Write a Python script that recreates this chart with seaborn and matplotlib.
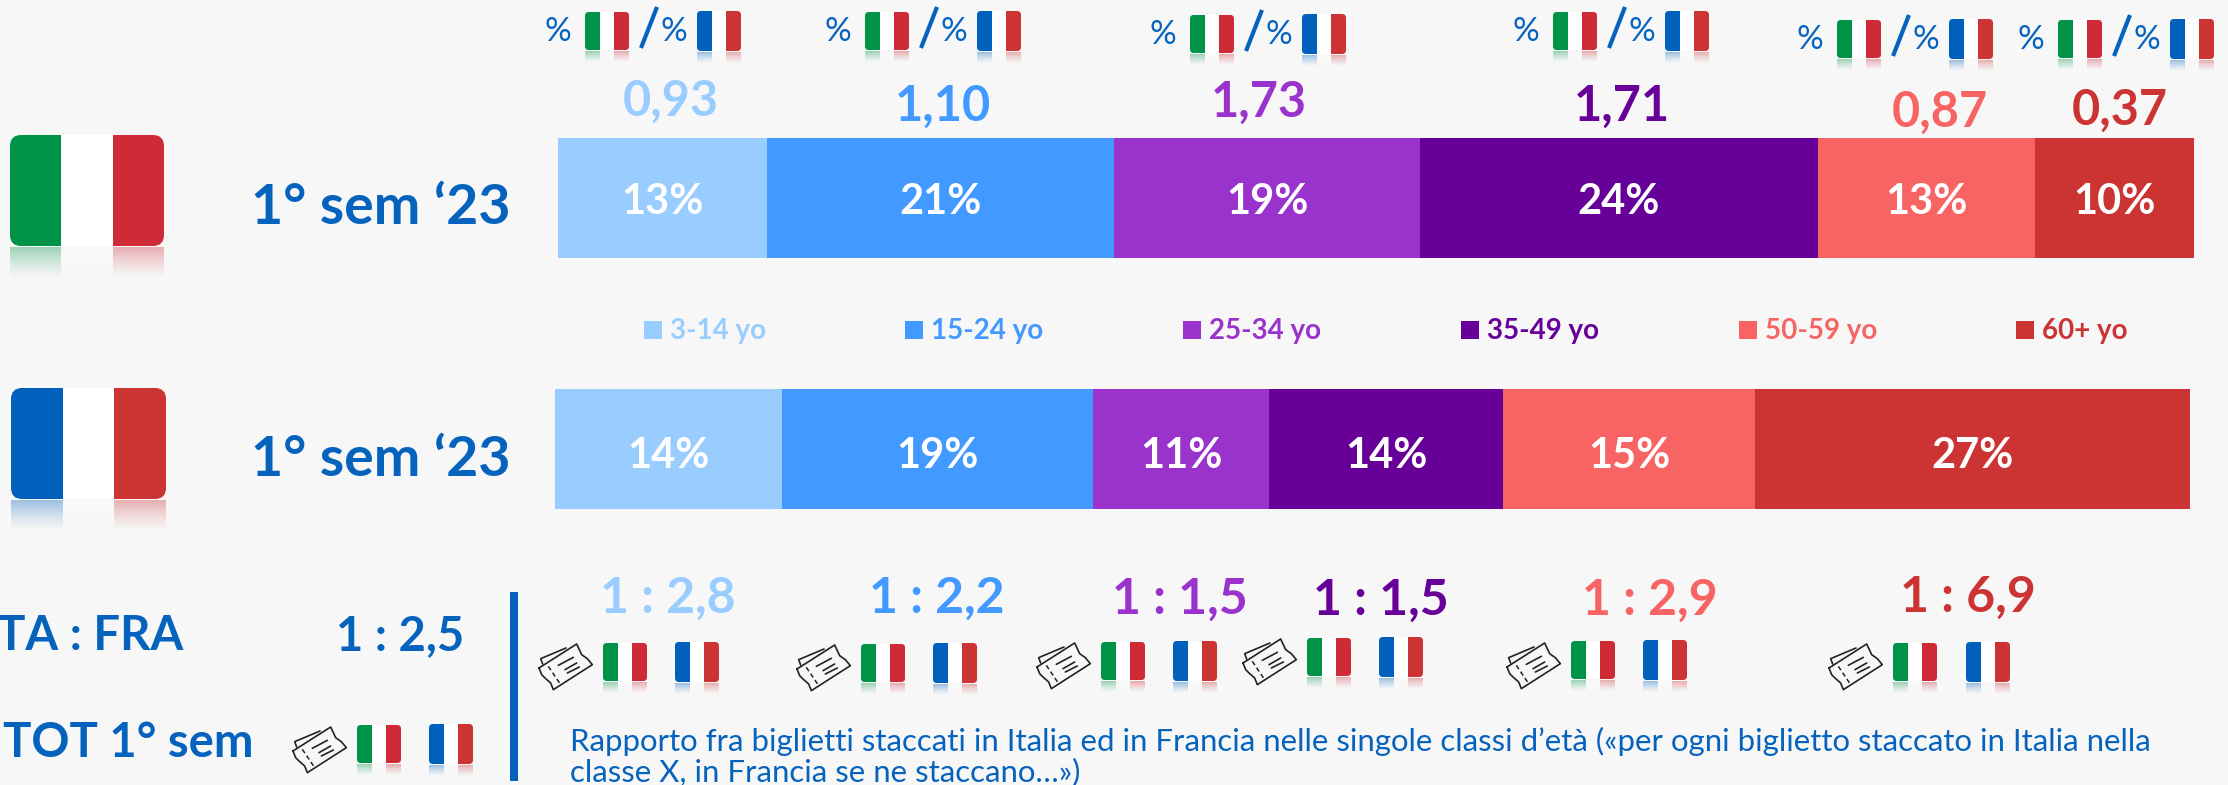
import numpy as np
import matplotlib
matplotlib.use("Agg")
import matplotlib.pyplot as plt
from matplotlib.patches import FancyBboxPatch, Rectangle
import seaborn as sns

age_classes = ['3-14 yo', '15-24 yo', '25-34 yo', '35-49 yo', '50-59 yo', '60+ yo']
share_ita = [12.8, 21.2, 18.7, 24.3, 13.3, 9.7]
share_fra = [13.9, 19.0, 10.8, 14.3, 15.4, 26.6]
pct_ratio = [0.93, 1.10, 1.73, 1.71, 0.87, 0.37]
ticket_ratio = [2.8, 2.2, 1.5, 1.5, 2.9, 6.9]
ticket_total = 2.5
palette = ['#99CCFF', '#4299FF', '#9933CC', '#660099', '#F86464', '#CC3333']

BLUE = '#0563BE'
BG = '#F7F7F7'
W, H = 2228, 785

sns.set_theme(style='white')
plt.rcParams['font.family'] = ['Lato', 'DejaVu Sans']

fig = plt.figure(figsize=(W / 100, H / 100), dpi=100, facecolor=BG)


def num(x, digits):
    return f'{x:.{digits}f}'.replace('.', ',')


def stacked_bar(x0, x1, y0, y1, shares, label, text_dy=0.0):
    ax = fig.add_axes([x0 / W, 1 - y1 / H, (x1 - x0) / W, (y1 - y0) / H])
    left = 0
    for val, col in zip(shares, palette):
        sns.barplot(x=[val], y=[label], left=left, color=col, width=1,
                    saturation=1, linewidth=0, ax=ax)
        ax.text(left + val / 2, text_dy, f'{round(val)}%', color='white', ha='center',
                va='center_baseline', fontsize=30, fontweight='bold')
        left += val
    ax.set_xlim(0, sum(shares))
    ax.set_ylim(0.5, -0.5)
    ax.axis('off')
    return ax


stacked_bar(558, 2194, 138, 258, share_ita, 'Italia')
stacked_bar(555, 2190, 389, 509, share_fra, 'Francia', text_dy=0.03)

# overlay in pixel coordinates for flags, tickets and texts
ov = fig.add_axes([0, 0, 1, 1], facecolor='none')
ov.set_xlim(0, W)
ov.set_ylim(H, 0)
ov.axis('off')


def flag(x, y, w, h, colors, reflect):
    r = h * 0.1
    box = FancyBboxPatch((x + r, y + r), w - 2 * r, h - 2 * r,
                         boxstyle=f'round,pad={r}', linewidth=0, facecolor='none')
    ov.add_patch(box)
    sw = w / 3
    for i, c in enumerate(colors):
        st = Rectangle((x + i * sw, y), sw + 0.5, h, color=c, linewidth=0)
        ov.add_patch(st)
        st.set_clip_path(box)
        # fading reflection under the flag, one pixel row at a time
        steps = int(reflect)
        for k in range(steps):
            fade = (1 - k / steps) ** 1.3
            ov.add_patch(Rectangle((x + i * sw, y + h + 1 + k), sw, 1, color=c, linewidth=0,
                                   antialiased=False,
                                   alpha=(0.3 if c == 'white' else 0.36) * fade))


IT = ['#009246', 'white', '#CE2B37']
FR = ['#0060BC', 'white', '#CC3333']


def ticket(x, y):
    def pts(p):
        a = np.array(p, dtype=float)
        return x + (a[:, 0] - 27) / 3, y + (a[:, 1] - 28) / 3
    line = dict(color='#222222', lw=1.2, solid_capstyle='round')
    outline = [(27, 100), (140, 28), (155, 60), (172, 72), (187, 90), (70, 165),
               (62, 145), (45, 130), (35, 120), (27, 100)]
    ov.plot(*pts(outline), **line)
    ov.plot(*pts([(38, 88), (32, 72), (108, 40)]), **line)
    ov.plot(*pts([(55, 95), (92, 150)]), color='#222222', lw=1.1, ls=(0, (3, 2)))
    for seg in [[(85, 92), (130, 68)], [(105, 105), (140, 85)], [(112, 115), (148, 97)]]:
        ov.plot(*pts(seg), **line)


# header "%IT / %FR" groups
header_dx = [0, 280, 605, 968, 1252, 1473]
header_dy = [0, 0, 3, 0, 8, 8]
for dx, dy in zip(header_dx, header_dy):
    ov.text(558 + dx, 32 + dy, '%', color=BLUE, fontsize=24, ha='center', va='center')
    flag(585 + dx, 12 + dy, 44, 38, IT, 11)
    ov.plot([641 + dx, 657 + dx], [48 + dy, 7 + dy], color=BLUE, lw=3, solid_capstyle='butt')
    ov.text(674 + dx, 32 + dy, '%', color=BLUE, fontsize=24, ha='center', va='center')
    flag(697 + dx, 11 + dy, 44, 40, FR, 11)

# ratio numbers above the Italian bar
ratio_x = [671, 943, 1259, 1622, 1940, 2120]
ratio_y = [97, 102, 98, 102, 108, 106]
for v, x, y, c in zip(pct_ratio, ratio_x, ratio_y, palette):
    ov.text(x, y, num(v, 2), color=c, fontsize=35, fontweight='bold', ha='center',
            va='center_baseline')

# big flags and period labels
flag(10, 135, 154, 111, IT, 31)
flag(11, 388, 155, 111, FR, 31)
for y in (204, 456):
    ov.text(381, y, '1° sem ‘23', color=BLUE, fontsize=40, fontweight='bold',
            ha='center', va='center_baseline')

# legend between the bars
legend_x = [644, 905, 1183, 1461, 1739, 2016]
for name, x, c in zip(age_classes, legend_x, palette):
    ov.add_patch(Rectangle((x, 321), 18, 18, color=c, linewidth=0))
    ov.text(x + 26, 329, name, color=c, fontsize=20, fontweight='bold', ha='left',
            va='center_baseline')

# totals on the left
ov.text(183, 632, 'TA : FRA', color=BLUE, fontsize=34, fontweight='bold', ha='right',
        va='center_baseline')
ov.text(400, 632, f'1 : {num(ticket_total, 1)}', color=BLUE, fontsize=34, fontweight='bold',
        ha='center', va='center_baseline')
ov.text(3, 739, 'TOT 1° sem', color=BLUE, fontsize=34, fontweight='bold', ha='left',
        va='center_baseline')
ticket(293, 727)
flag(357, 725, 44, 38, IT, 11)
flag(429, 724, 44, 40, FR, 11)
ov.add_patch(Rectangle((510, 592), 8, 189, color=BLUE, linewidth=0))

# ticket ratio per age class
tick_x = [668, 937, 1180, 1381, 1650, 1968]
tick_y = [594, 594, 595, 596, 596, 593]
ticket_pos = [(539, 644), (797, 645), (1037, 643), (1243, 639), (1507, 643), (1829, 644)]
it_pos = [(603, 643), (861, 644), (1101, 642), (1307, 638), (1571, 641), (1893, 643)]
fr_pos = [(675, 642), (933, 643), (1173, 641), (1379, 637), (1643, 640), (1966, 642)]
for v, tx, ty, c, tp, ip, fp in zip(ticket_ratio, tick_x, tick_y, palette, ticket_pos, it_pos, fr_pos):
    ov.text(tx, ty, f'1 : {num(v, 1)}', color=c, fontsize=36, fontweight='bold', ha='center',
            va='center_baseline')
    ticket(*tp)
    flag(ip[0], ip[1], 44, 38, IT, 11)
    flag(fp[0], fp[1], 44, 40, FR, 11)

# caption
ov.text(570, 739, 'Rapporto fra biglietti staccati in Italia ed in Francia nelle singole classi '
        'd’età («per ogni biglietto staccato in Italia nella', color=BLUE, fontsize=22.4,
        ha='left', va='center_baseline')
ov.text(570, 770, 'classe X, in Francia se ne staccano…»)', color=BLUE, fontsize=22.4,
        ha='left', va='center_baseline')

fig.savefig('out.png', dpi=100, facecolor=BG)
